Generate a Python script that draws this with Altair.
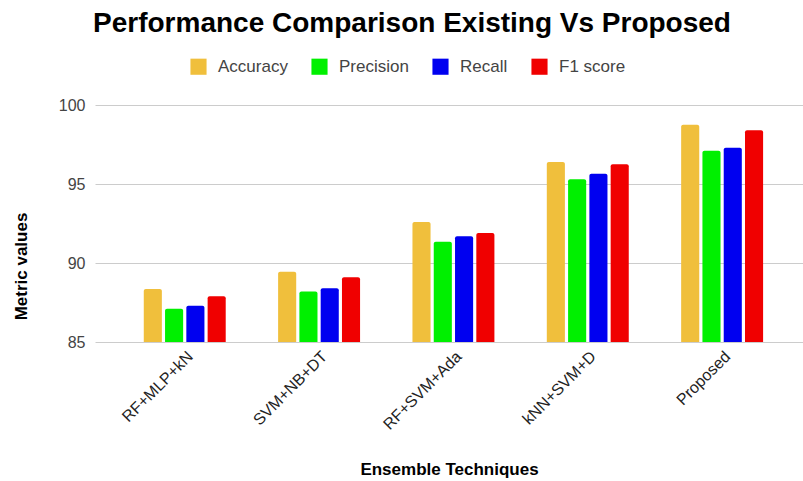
import altair as alt
import pandas as pd

techniques = ["RF+MLP+kN", "SVM+NB+DT", "RF+SVM+Ada", "kNN+SVM+D", "Proposed"]
metrics = ["Accuracy", "Precision", "Recall", "F1 score"]
colors = ["#f0bf3c", "#00f000", "#0000f0", "#f00000"]

accuracy = [88.35, 89.45, 92.6, 96.4, 98.75]
precision = [87.1, 88.2, 91.35, 95.3, 97.1]
recall = [87.3, 88.4, 91.7, 95.65, 97.3]
f1_score = [87.9, 89.1, 91.9, 96.25, 98.4]

axis_min = 85
axis_max = 100

series = dict(zip(metrics, [accuracy, precision, recall, f1_score]))
rows = [
    {"Technique": t, "Metric": m, "Value": vals[i]}
    for m, vals in series.items()
    for i, t in enumerate(techniques)
]
df = pd.DataFrame(rows)

font = "Liberation Sans"

bars = alt.Chart(df).mark_bar(
    cornerRadiusTopLeft=2, cornerRadiusTopRight=2
).encode(
    x=alt.X(
        "Technique:N",
        sort=techniques,
        scale=alt.Scale(paddingInner=0.39, paddingOuter=0.33, align=0.55),
        axis=alt.Axis(
            title="Ensemble Techniques",
            labelAngle=-45,
            labelAlign="right",
            labelBaseline="top",
            labelFontSize=16,
            labelColor="#222222",
            labelPadding=6,
            ticks=False,
            domain=False,
            titleFontSize=17,
            titleFontWeight="bold",
            titleColor="#000000",
            titlePadding=29,
        ),
    ),
    xOffset=alt.XOffset(
        "Metric:N", sort=metrics, scale=alt.Scale(paddingInner=0.15)
    ),
    y=alt.Y(
        "Value:Q",
        scale=alt.Scale(domain=[axis_min, axis_max], nice=False, zero=False),
        axis=alt.Axis(
            title="Metric values",
            values=[85, 90, 95, 100],
            labelFontSize=16,
            labelColor="#444444",
            labelPadding=10,
            ticks=False,
            domain=False,
            gridColor="#cccccc",
            titleFontSize=17,
            titleFontWeight="bold",
            titleColor="#000000",
            titleX=-65,
            titleY=161,
        ),
    ),
    y2=alt.Y2(datum=axis_min),
    color=alt.Color(
        "Metric:N",
        sort=metrics,
        scale=alt.Scale(domain=metrics, range=colors),
        legend=alt.Legend(
            title=None,
            orient="none",
            direction="horizontal",
            legendX=95,
            legendY=-47,
            symbolType="square",
            symbolSize=260,
            symbolStrokeWidth=0,
            labelFontSize=17,
            labelColor="#444444",
            columnPadding=23,
            labelOffset=11,
        ),
    ),
)

chart = bars.properties(
    width=708,
    height=237,
    autosize=alt.AutoSizeParams(type="none"),
    padding={"left": 95, "top": 105, "right": 0, "bottom": 139},
    title=alt.TitleParams(
        "Performance Comparison Existing Vs Proposed",
        fontSize=28,
        fontWeight="bold",
        color="#000000",
        font=font,
        anchor="middle",
        dx=-37,
        offset=20,
    ),
).configure(
    font=font
).configure_view(
    stroke=None
)

chart.save("out.html", embed_options={"renderer": "svg", "actions": False})
